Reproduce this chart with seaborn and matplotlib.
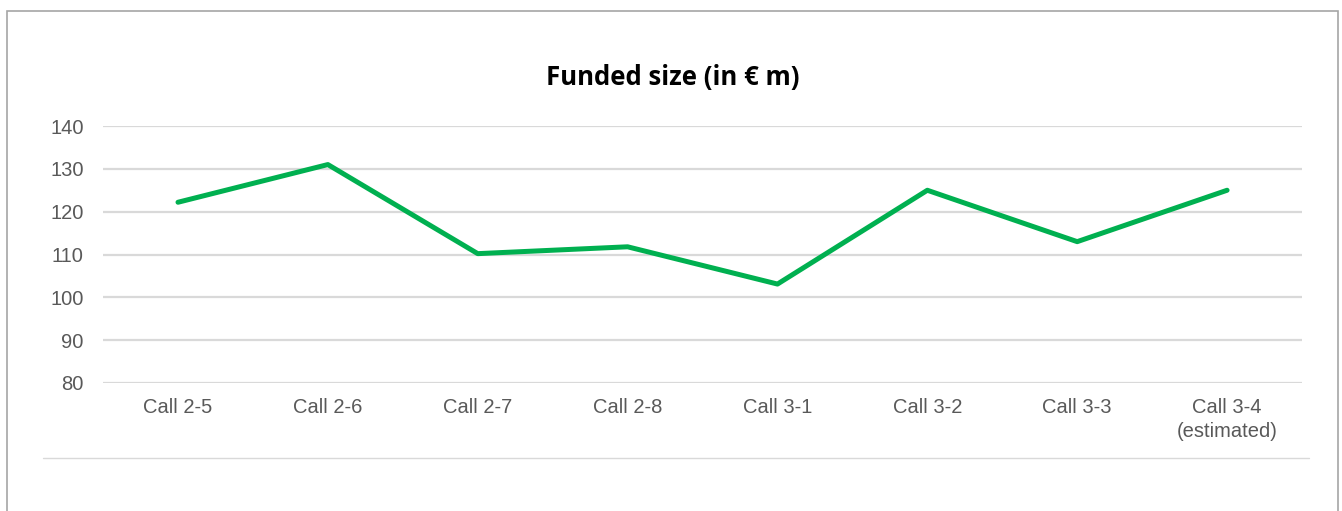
import pandas as pd
import seaborn as sns
import matplotlib.pyplot as plt
from matplotlib.lines import Line2D
from matplotlib.patches import Rectangle

# data
calls = ["Call 2-5", "Call 2-6", "Call 2-7", "Call 2-8",
         "Call 3-1", "Call 3-2", "Call 3-3", "Call 3-4\n(estimated)"]
funded = [122.2, 131.0, 110.2, 111.8, 103.1, 125.0, 113.0, 125.0]
y_ticks = [80, 90, 100, 110, 120, 130, 140]

df = pd.DataFrame({"call": calls, "funded": funded})

sns.set_theme(style="white")
plt.rcParams["font.family"] = ["Liberation Sans", "DejaVu Sans"]

fig = plt.figure(figsize=(13.42, 5.11), dpi=100)
ax = fig.add_axes([0.0768, 0.2505, 0.8934, 0.5029])

sns.lineplot(data=df, x="call", y="funded", ax=ax, color="#00B050",
             linewidth=3.6, sort=False)

ax.set_xlim(-0.5, len(calls) - 0.5)
ax.set_ylim(80, 140)
ax.set_yticks(y_ticks)
ax.yaxis.grid(True, color="#D9D9D9", linewidth=1.6)
ax.set_axisbelow(True)
for s in ax.spines.values():
    s.set_visible(False)
ax.tick_params(axis="both", length=0, labelsize=14.5, labelcolor="#595959")
ax.tick_params(axis="x", pad=11)
ax.tick_params(axis="y", pad=14)
for lbl in ax.get_xticklabels():
    lbl.set_linespacing(1.3)
ax.set_xlabel("")
ax.set_ylabel("")

fig.text(0.5015, 0.848, "Funded size (in € m)", ha="center", va="center",
         fontsize=18.5, fontweight="bold", family=["Open Sans", "DejaVu Sans"],
         color="black")

# separator line under the chart and outer frame
fig.add_artist(Line2D([43 / 1342, 1309 / 1342], [1 - 458 / 511] * 2,
                      transform=fig.transFigure, color="#D9D9D9", linewidth=1))
fig.add_artist(Rectangle((7 / 1342, -0.05), 1331 / 1342, 1.05 - 11 / 511,
                         transform=fig.transFigure, fill=False,
                         edgecolor="#A6A6A6", linewidth=1.2))

fig.savefig("out.png", dpi=100)
